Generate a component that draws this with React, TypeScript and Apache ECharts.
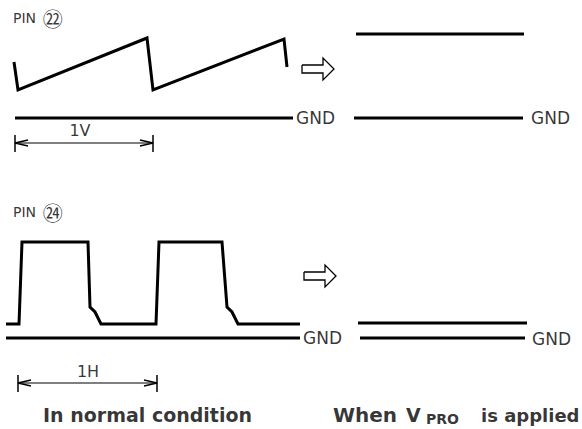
import React, { useEffect, useRef } from "react";
import * as echarts from "echarts";

const W = 582;
const H = 429;

// Drawing coordinates: x to the right, y downward (one unit = one pixel of the sheet)
// PIN 22 – sawtooth, normal condition
const sawX = [14, 18, 147, 153, 284, 287];
const sawY = [62, 90, 38, 90, 39, 67];

// PIN 24 – pulse train, normal condition
const pulseX = [6, 19, 22, 88, 90, 95, 98, 101, 156, 159, 222, 227, 232, 235, 238, 300];
const pulseY = [324, 324, 242, 242, 307, 312, 318, 324, 324, 242, 242, 307, 312, 318, 324, 324];

// Flat levels (GND references and V_PRO levels)
const levelStartX = [15, 356, 354, 6, 358, 360];
const levelEndX = [293, 524, 523, 300, 527, 525];
const levelY = [118, 34, 118, 338, 323, 338];

// Period dimension markers (1V, 1H)
const dimStartX = [15, 18];
const dimEndX = [153, 157];
const dimY = [143, 383];

// Hollow "becomes" arrows
const arrowLeftX = [302, 304];
const arrowMidY = [69, 276];

// Texts
const gndX = [296, 531, 303, 532];
const gndY = [118, 118, 338, 339];

const dimText = ["1V", "1H"];
const dimTextX = [80, 88];
const dimTextY = [130, 371];

const pinText = ["㉒", "㉔"];
const pinX = [13, 13];
const pinY = [18, 212];

const captionText = ["In normal condition", "When", "V", "PRO", "is applied"];
const captionX = [43, 333, 406, 426, 481];
const captionY = [415, 415, 415, 418.5, 415];
const captionSize = [19, 20, 19, 14, 18];

const BLACK = "#000";

function poly(xs: number[], ys: number[]) {
  return xs.map((x, i) => [x, ys[i]]);
}

function lineSeries(data: number[][], width: number) {
  return {
    type: "line",
    data,
    symbol: "none",
    showSymbol: false,
    silent: true,
    lineStyle: { color: BLACK, width, cap: "butt", join: "miter" },
    z: 2,
  };
}

export default function App() {
  const ref = useRef<HTMLDivElement>(null);
  useEffect(() => {
    if (!ref.current) return;
    const chart = echarts.init(ref.current, undefined, { renderer: "svg" });
    const series: any[] = [];

    series.push(lineSeries(poly(sawX, sawY), 3));
    series.push(lineSeries(poly(pulseX, pulseY), 3));
    levelY.forEach((y, i) => {
      series.push(lineSeries([[levelStartX[i], y], [levelEndX[i], y]], 3));
    });

    dimY.forEach((y, i) => {
      const a = dimStartX[i];
      const b = dimEndX[i];
      series.push(lineSeries([[a, y], [b, y]], 1.2));
      series.push(lineSeries([[a, y - 8], [a, y + 9]], 1.5));
      series.push(lineSeries([[b, y - 8], [b, y + 9]], 1.5));
      series.push(lineSeries([[a + 13, y - 3], [a, y], [a + 13, y + 3]], 1.3));
      series.push(lineSeries([[b - 13, y - 3], [b, y], [b - 13, y + 3]], 1.3));
    });

    arrowMidY.forEach((y, i) => {
      const x = arrowLeftX[i];
      const shape = [
        [x, y - 4],
        [x + 21, y - 4],
        [x + 21, y - 11],
        [x + 32, y],
        [x + 21, y + 11],
        [x + 21, y + 4],
        [x, y + 4],
        [x, y - 4],
      ];
      series.push(lineSeries(shape, 1.3));
    });

    const textData: any[] = [];
    gndX.forEach((x, i) => {
      textData.push({
        value: [x, gndY[i]],
        label: {
          formatter: "GND",
          align: "left",
          fontSize: 17,
          fontFamily: "DejaVu Sans",
          color: BLACK,
        },
      });
    });
    dimText.forEach((t, i) => {
      textData.push({
        value: [dimTextX[i], dimTextY[i]],
        label: {
          formatter: t,
          align: "center",
          fontSize: 16,
          fontFamily: "DejaVu Sans",
          color: BLACK,
        },
      });
    });
    pinText.forEach((t, i) => {
      textData.push({
        value: [pinX[i], pinY[i]],
        label: {
          formatter: "{p|PIN}  {c|" + t + "}",
          align: "left",
          rich: {
            p: { fontSize: 14, fontFamily: "DejaVu Sans", color: BLACK },
            c: { fontSize: 20, fontFamily: "Noto Sans CJK JP", color: BLACK },
          },
        },
      });
    });
    captionText.forEach((t, i) => {
      textData.push({
        value: [captionX[i], captionY[i]],
        label: {
          formatter: t,
          align: "left",
          fontSize: captionSize[i],
          fontWeight: "bold",
          fontFamily: "DejaVu Sans",
          color: BLACK,
        },
      });
    });

    series.push({
      type: "scatter",
      data: textData,
      symbolSize: 0,
      silent: true,
      z: 3,
      label: {
        show: true,
        position: "inside",
        verticalAlign: "middle",
      },
    });

    chart.setOption({
      animation: false,
      backgroundColor: "#fff",
      grid: { left: 0, right: 0, top: 0, bottom: 0, containLabel: false },
      xAxis: { type: "value", min: 0, max: W, show: false },
      yAxis: { type: "value", min: 0, max: H, inverse: true, show: false },
      series,
    });
    return () => chart.dispose();
  }, []);

  return (
    <div
      ref={ref}
      style={{ position: "fixed", left: 0, top: 0, width: W, height: H, background: "#fff" }}
    />
  );
}
